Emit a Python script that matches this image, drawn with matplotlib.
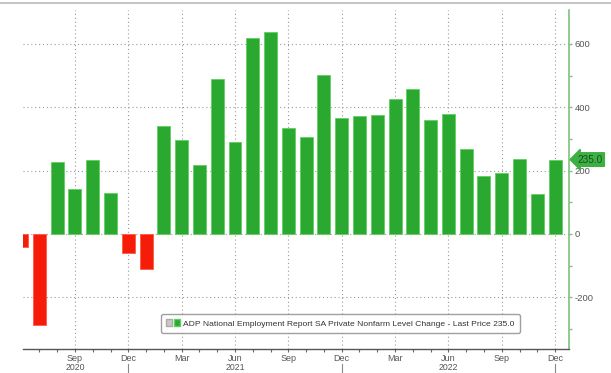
import numpy as np
import matplotlib.pyplot as plt
from matplotlib.patches import Patch
from matplotlib.lines import Line2D
from matplotlib.legend_handler import HandlerTuple

plt.rcParams['font.family'] = ['Liberation Sans', 'DejaVu Sans']
plt.rcParams['axes.unicode_minus'] = False

# ADP private payroll change, Jun 2020 .. Dec 2022 (thousands)
meses = ['Jun', 'Jul', 'Aug', 'Sep', 'Oct', 'Nov', 'Dec',
         'Jan', 'Feb', 'Mar', 'Apr', 'May', 'Jun', 'Jul', 'Aug', 'Sep', 'Oct', 'Nov', 'Dec',
         'Jan', 'Feb', 'Mar', 'Apr', 'May', 'Jun', 'Jul', 'Aug', 'Sep', 'Oct', 'Nov', 'Dec']
anos = [2020] * 7 + [2021] * 12 + [2022] * 12
valores = [-40, -287, 227, 142, 234, 129, -60,
           -111, 341, 298, 218, 489, 291, 620, 636, 336, 306, 502, 366,
           372, 376, 426, 458, 359, 380, 267, 184, 193, 238, 126, 235]

meses_rotulo = ['Sep', 'Dec', 'Mar', 'Jun']
rotulos_ano = [('2020', 'Sep'), ('2021', 'Jun'), ('2022', 'Jun')]
ultimo = 235.0

verde = '#2aa830'
vermelho = '#f51d0a'
verde_eixo = '#7cc47c'
cinza = '#555555'

fig = plt.figure(figsize=(6.11, 3.73), dpi=100)
ax = fig.add_axes([23 / 611, 24 / 373, 546 / 611, 339 / 373])

x = np.arange(len(valores))
cores = [verde if v >= 0 else vermelho for v in valores]
bordas = ['#5fd05f' if v >= 0 else '#ff5a40' for v in valores]
ax.bar(x, valores, width=0.73, color=cores, edgecolor=bordas, linewidth=0.6, zorder=2)

ax.set_xlim(0.08, len(valores) - 1 + 0.78)
ax.set_ylim(-363, 707)

# eixo x (o primeiro mês fica fora da área, sem rótulo)
pos_rot = [i for i, m in enumerate(meses) if m in meses_rotulo and i > 0]
ax.set_xticks(pos_rot)
ax.set_xticklabels([meses[i] for i in pos_rot], fontsize=6.5, color=cinza)
ax.set_xticks(x[1:], minor=True)
ax.tick_params(axis='x', which='both', direction='out', length=2.5, width=0.8,
               color='#666666', pad=1)

for ano, mes in rotulos_ano:
    i = [k for k in x if anos[k] == int(ano) and meses[k] == mes][0]
    ax.annotate(ano, xy=(i, 0), xycoords=('data', 'axes fraction'),
                xytext=(0, -9.8), textcoords='offset points', ha='center', va='top',
                fontsize=6.3, color=cinza, annotation_clip=False)
for i in [k for k in x if meses[k] == 'Dec']:
    ax.plot([i, i], [-0.045, -0.08], transform=ax.get_xaxis_transform(),
            color='#888888', lw=0.8, clip_on=False)

# eixo y à direita
ax.yaxis.tick_right()
ax.set_yticks([-200, 0, 200, 400, 600])
ax.set_yticks([-300, -100, 100, 300, 500], minor=True)
ax.tick_params(axis='y', which='both', direction='out', color=verde_eixo,
               labelsize=6.8, labelcolor=cinza, length=2.5, width=1, pad=1.5)

for lado in ['top', 'left']:
    ax.spines[lado].set_visible(False)
ax.spines['right'].set_color(verde_eixo)
ax.spines['right'].set_linewidth(1.2)
ax.spines['bottom'].set_color('#555555')
ax.spines['bottom'].set_linewidth(1.0)

ax.grid(True, which='major', linestyle=(0, (1, 2.5)), color='#9a9a9a', lw=0.8, zorder=0)

# rótulo do último valor
ax.annotate('%.1f' % ultimo, xy=(1.0, ultimo), xycoords=('axes fraction', 'data'),
            xytext=(6, 0), textcoords='offset points', ha='left', va='center',
            fontsize=7.2, color='#1d4d1d',
            bbox=dict(boxstyle='larrow,pad=0.18', fc='#3cb043', ec='#3cb043'),
            annotation_clip=False)

alca = [(Patch(facecolor='#c8c8c8', edgecolor='#aaaaaa'),
         Patch(facecolor=verde, edgecolor='#5fd05f'))]
leg = ax.legend(alca, ['ADP National Employment Report SA Private Nonfarm Level Change - Last Price 235.0'],
                handler_map={tuple: HandlerTuple(ndivide=None, pad=0.15)},
                loc='lower left', bbox_to_anchor=(134 / 546, 12 / 339), fontsize=6.1,
                frameon=True, fancybox=True, handlelength=1.6, handleheight=0.9,
                handletextpad=0.4, borderpad=0.6, labelcolor='#333333')
leg.get_frame().set_edgecolor('#888888')
leg.get_frame().set_linewidth(1.0)

fig.add_artist(Line2D([0, 1], [1 - 3 / 373, 1 - 3 / 373], color='#bbbbbb', lw=1.2))

plt.savefig('out.png', dpi=100)
